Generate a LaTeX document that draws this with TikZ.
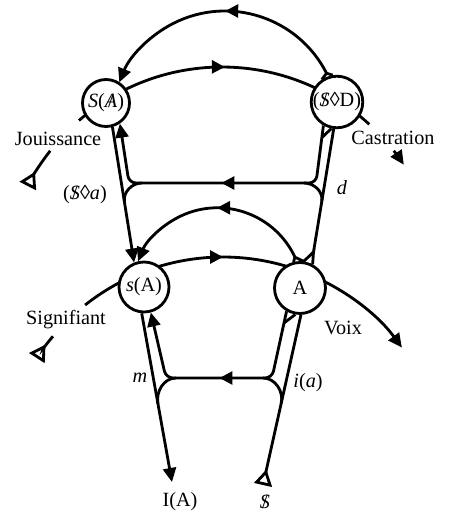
\documentclass[tikz,border=0pt]{standalone}
\usepackage{fontspec}
\setmainfont{Liberation Serif}
\usetikzlibrary{arrows.meta,decorations.markings,backgrounds,calc}
\newcommand{\barre}[1]{\ooalign{\textit{#1}\cr\hidewidth/\hidewidth\cr}}
\tikzset{
  lieu/.style={circle,draw,fill=white,line width=1.6pt,inner sep=0pt,minimum size=#1},
  vecteur/.style={line width=1.6pt},
  pointe/.style={-{Triangle[length=2.8mm,width=2.6mm]}},
  queue/.style={{Triangle[open,reversed,length=3.2mm,width=3.6mm]}-},
  milieu/.style={postaction={decorate},decoration={markings,mark=at position #1 with {\arrow{Triangle[length=2.6mm,width=2.6mm]}}}}
}
\begin{document}
\begin{tikzpicture}[x=0.02cm,y=0.02cm,font=\fontsize{11.5}{13}\selectfont]
  \useasboundingbox (0,0) rectangle (450,522);
  \node[lieu=0.94cm] (SA) at (106,419) {\textit{S}(\barre{A})};
  \node[lieu=0.98cm] (SD) at (337,420) {(\barre{S}◊D)};
  \node[lieu=1cm] (sA) at (144,235) {\textit{s}(A)};
  \node[lieu=1.02cm] (A) at (300,234) {A};
  \coordinate (jc) at (222,237); \coordinate (sc) at (223,43);
  \coordinate (hc) at (225,397); \coordinate (bc) at (217.4,228.6);
  \coordinate (IA) at (172,40); \coordinate (Sb) at (263,37);
  \coordinate (fh) at ($(hc)+(27:114)$); \coordinate (fb) at ($(bc)+(25:85.6)$);
  \coordinate (fa) at (313.5,270);
  \begin{pgfonlayer}{background}
    \draw[vecteur,queue] ($(jc)+(153:218)$) arc[start angle=153,end angle=142,radius=218];
    \draw[vecteur,milieu=0.5] ($(jc)+(131:218)$) arc[start angle=131,end angle=47.5,radius=218];
    \draw[vecteur,pointe] ($(jc)+(38:218)$) arc[start angle=38,end angle=33.5,radius=218];
    \draw[vecteur,queue] ($(sc)+(147:222)$) arc[start angle=147,end angle=140,radius=222];
    \draw[vecteur,pointe,milieu=0.417] ($(sc)+(128.4:222)$) arc[start angle=128.4,end angle=36.3,radius=222];
    \draw[vecteur,pointe,milieu=0.48] (fh) arc[start angle=27,end angle=158,radius=114];
    \draw[vecteur] (SD.124) -- (fh) -- (SD.99);
    \draw[vecteur,pointe,milieu=0.49] (fb) arc[start angle=25,end angle=158,radius=85.6];
    \draw[vecteur] (A.104) -- (fb) -- (A.82);
    \draw[vecteur] (SD.-97) -- (fa); \draw[vecteur] (A.82) -- (fa) -- (A.62);
    \draw[vecteur,pointe,milieu=0.5,rounded corners=0.14cm] (SD.-120) -- (316,339) -- (129,339) -- (SA.-56);
    \draw[vecteur] ($(SD.-120)!0.21!(316,339)$) -- (SD.-102);
    \draw[vecteur,pointe] (SA.-75) -- (sA.112);
    \draw[vecteur] (142,339) to[out=180,in=99] ($(SA.-75)!0.554!(sA.112)$);
    \draw[vecteur] (304,339) to[out=0,in=81] ($(SD.-97)!0.588!(fa)$);
    \draw[vecteur,pointe,milieu=0.5,rounded corners=0.14cm] (A.-120) -- (272,144) -- (166,144) -- (sA.-75);
    \draw[vecteur] ($(A.-120)!0.175!(272,144)$) -- (A.-100);
    \draw[vecteur,pointe] (sA.-95) -- (IA);
    \draw[vecteur,queue] (Sb) -- (A.-88);
    \draw[vecteur] (176,144) to[out=180,in=100] ($(sA.-95)!0.535!(IA)$);
    \draw[vecteur] (263,144) to[out=0,in=77] ($(Sb)!0.48!(A.-88)$);
  \end{pgfonlayer}
  \node (jou) at (58,383) {Jouissance};
  \node (cas) at (393,384) {Castration};
  \node (sig) at (66,202) {Signifiant};
  \node (voi) at (343,194) {Voix};
  \node (poi) at (85,327) {(\barre{S}◊\textit{a})};
  \node (d) at (342,334) {\textit{d}};
  \node (m) at (140,144) {\textit{m}};
  \node (ia) at (308,139) {\textit{i}(\textit{a})};
  \node (IAl) at (180,20) {I(A)};
  \node (Sl) at (265,20) {\barre{S}};
\end{tikzpicture}
\end{document}
